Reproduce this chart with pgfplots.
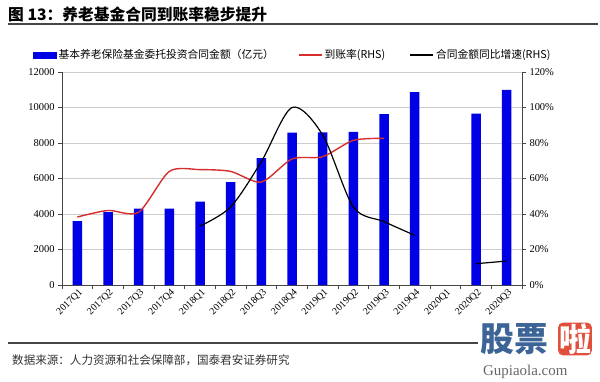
\documentclass[border=0pt]{standalone}
\usepackage{pgfplots}
\pgfplotsset{compat=1.18}
\usepackage{fontspec}
\setmainfont{Liberation Serif}
\newfontfamily\cjk{Noto Sans CJK SC}
\definecolor{barblue}{RGB}{0,0,230}
\definecolor{linered}{RGB}{215,45,45}
\definecolor{gridgray}{RGB}{205,205,205}
\definecolor{axisgray}{RGB}{70,70,70}
\definecolor{wmblue}{RGB}{60,100,150}
\definecolor{wmred}{RGB}{225,80,60}

\pgfplotstableread{
x amount
0 3600
1 4100
2 4300
3 4300
4 4700
5 5800
6 7150
7 8580
8 8600
9 8620
10 9630
11 10870
13 9650
14 10990
}\amounttable

\pgfplotstableread{
x rate
0 38.3
1 42.0
2 41.0
3 64.0
4 65.0
5 64.0
6 58.0
7 71.0
8 72.3
9 81.5
10 82.6
}\ratetable

\pgfplotstableread{
x growth
4 33.2
5 44.0
6 69.5
7 100.0
8 84.5
9 44.0
10 35.7
11 28.0
}\growthtableA

\pgfplotstableread{
x growth
13 12.0
14 13.5
}\growthtableB

\begin{document}
\begin{tikzpicture}[x=1bp,y=1bp]
\path[use as bounding box] (0,0) rectangle (600,381);
% title
\node[anchor=west, inner sep=0pt, font=\cjk\fontsize{15.8}{18}\selectfont\bfseries] at (8,367) {图 13：养老基金合同到账率稳步提升};
\draw[line width=2bp, color=axisgray] (8,356.5) -- (598,356.5);

\pgfplotsset{
  every axis/.append style={
    scale only axis, width=460bp, height=213bp,
    at={(62bp,96bp)}, anchor=south west,
    xmin=-0.5, xmax=14.5,
    tick label style={font=\fontsize{10.5}{12}\selectfont},
    /pgf/number format/assume math mode=true,
    axis line style={axisgray, line width=0.8bp},
    tick style={axisgray, line width=0.8bp},
    tick align=outside,
  }
}

\begin{axis}[
  ymin=0, ymax=12000, ytick={0,2000,...,12000},
  axis x line*=bottom, axis y line*=left,
  ymajorgrids, grid style={gridgray, line width=0.8bp},
  xtick={0,...,14},
  xticklabels={2017Q1,2017Q2,2017Q3,2017Q4,2018Q1,2018Q2,2018Q3,2018Q4,2019Q1,2019Q2,2019Q3,2019Q4,2020Q1,2020Q2,2020Q3},
  minor xtick={-0.5,0.5,...,14.5},
  major x tick style={draw=none},
  minor tick length=4bp, major tick length=4bp,
  xticklabel style={rotate=45, anchor=east, inner sep=0.5bp, yshift=-4bp, xshift=2bp, font=\fontsize{10}{11}\selectfont},
  yticklabel style={/pgf/number format/set thousands separator={}},
  scaled y ticks=false,
  ybar, bar width=9.5bp,
]
\addplot[fill=barblue, draw=none] table[x=x, y=amount] {\amounttable};
\end{axis}

\begin{axis}[
  ymin=0, ymax=120, ytick={0,20,...,120},
  axis y line*=right, axis x line=none,
  major tick length=4bp,
  yticklabel={\pgfmathprintnumber{\tick}\%},
  legend columns=3,
  legend style={draw=none, fill=none, at={(-0.063,1.115)}, anchor=north west,
    font=\cjk\fontsize{10.8}{12}\selectfont, inner sep=0pt,
    /tikz/every even column/.append style={column sep=22bp}},
]
\addlegendimage{legend image code/.code={\fill[barblue] (0bp,-2.8bp) rectangle (23bp,2.8bp);}}
\addlegendentry{基本养老保险基金委托投资合同金额（亿元）}
\addplot[linered, line width=1.4bp, smooth, tension=0.45,
  legend image code/.code={\draw[linered, line width=1.8bp] (0bp,0bp) -- (23bp,0bp);}]
  table[x=x, y=rate] {\ratetable};
\addlegendentry{到账率(RHS)}
\addplot[black, line width=1.2bp, smooth, tension=0.5,
  legend image code/.code={\draw[black, line width=1.8bp] (0bp,0bp) -- (23bp,0bp);}]
  table[x=x, y=growth] {\growthtableA};
\addlegendentry{合同金额同比增速(RHS)}
\addplot[black, line width=1.2bp, forget plot] table[x=x, y=growth] {\growthtableB};
\end{axis}

% footer
\draw[line width=1.6bp, color=axisgray] (8,38) -- (478,38);
\node[anchor=west, inner sep=0pt, font=\cjk\fontsize{11.6}{13}\selectfont, color=black!80] at (12,21) {数据来源：人力资源和社会保障部，国泰君安证券研究};
% watermark
\node[anchor=west, inner sep=0pt, font=\cjk\fontsize{34}{36}\selectfont\bfseries, color=wmblue] at (480,42) {股票};
\node[fill=wmred, rounded corners=5bp, inner sep=1bp, font=\cjk\fontsize{32}{34}\selectfont\bfseries, text=white] at (575,42) {啦};
\node[anchor=west, inner sep=0pt, font=\fontsize{15}{17}\selectfont, color=black!60] at (483,9) {Gupiaola.com};
\end{tikzpicture}
\end{document}
